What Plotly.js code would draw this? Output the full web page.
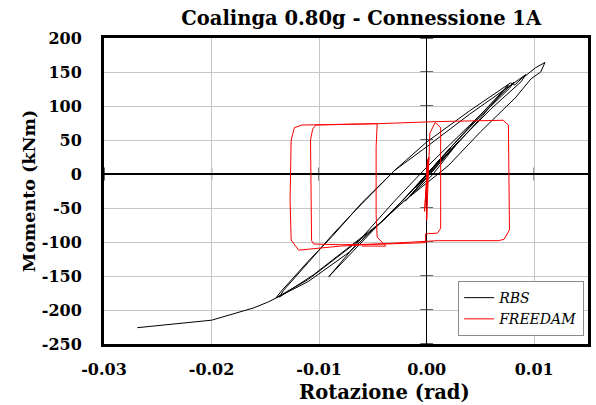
<!DOCTYPE html>
<html>
<head>
<meta charset="utf-8">
<script src="https://cdn.plot.ly/plotly-3.0.1.min.js"></script>
<style>html,body{margin:0;padding:0;background:#fff;}#chart{width:596px;height:405px;}</style>
</head>
<body>
<div id="chart"></div>
<script>
// RBS hysteresis (rotation rad, moment kNm)
var rbsX = [0, 0.0010, -0.0006, 0.0016, -0.0010, 0.0022, -0.0008, 0.0028, 0.0010, -0.0015, 0.0005, 0.0030, 0.0000, -0.0020,
  -0.0005, 0.0020, 0.0050, 0.0076,
  0.0040, 0.0010, -0.0020, -0.0050, -0.0091,
  -0.0085, -0.0060, -0.0030, 0.0000, 0.0040, 0.0081,
  0.0077, 0.0050, 0.0020, -0.0010, -0.0040, -0.0072, -0.0105, -0.0137,
  -0.0133, -0.0110, -0.0088, -0.0066, -0.0030, 0.0000, 0.0040, 0.0078, 0.0082, 0.0092, 0.0090, 0.0101, 0.0110,
  0.0106, 0.0097, 0.0083, 0.0050, 0.0020, -0.0021, -0.0050, -0.0075, -0.0110, -0.0140,
  -0.0135, -0.0110, -0.0088, -0.0060, -0.0030, 0.0000, 0.0040, 0.0092,
  0.0088, 0.0060, 0.0030, 0.0000, -0.0030, -0.0072, -0.0110, -0.0147, -0.0161, -0.0200, -0.0269];
var rbsY = [0, 18, -12, 28, -20, 38, -15, 45, 12, -32, -2, 48, -5, -40,
  -15, 30, 82, 131,
  70, 18, -35, -83, -151,
  -140, -93, -40, 10, 72, 135,
  126, 85, 35, -18, -68, -108, -148, -181,
  -171, -130, -90, -53, 5, 47, 93, 134, 131, 146, 142, 156, 164,
  150, 140, 113, 62, 12, -40, -82, -113, -155, -182,
  -172, -128, -92, -42, 5, 40, 88, 146,
  136, 96, 48, -2, -52, -115, -158, -188, -197, -215, -226];

// FREEDAM hysteresis
var fdX = [0, 0.0001, -0.0001, 0.0002, -0.0002, 0.0001, 0.0000,
  0.0003, 0.0008, 0.0013, 0.0013, 0.0010, -0.0001, -0.0001,
  -0.0040, -0.0080, -0.0105, -0.0107,
  -0.0108, -0.0106, -0.0103,
  -0.0060, -0.0045, 0.0008, 0.0071, 0.0076,
  0.0077, 0.0072, 0.0067,
  0.0011, -0.0040, -0.0080, -0.0119,
  -0.0126, -0.0127, -0.0126, -0.0123, -0.0116,
  -0.0046, -0.0047, -0.0047, -0.0046, -0.0038, -0.0060];
var fdY = [0, 22, -40, 25, -55, 18, -68,
  60, 76, 68, -80, -87, -88, -101,
  -103, -104, -103, -98,
  50, 66, 72,
  73, 74, 77, 79, 72,
  -82, -96, -98,
  -98, -103, -106, -112,
  -97, -38, 50, 68, 72,
  74, 40, -60, -93, -106, -106];

var xTicks = [-0.03, -0.02, -0.01, 0, 0.01];
var xTickText = ['-0.03', '-0.02', '-0.01', '0.00', '0.01'];
var yTicks = [-250, -200, -150, -100, -50, 0, 50, 100, 150, 200];
var yTickText = ['-250', '-200', '-150', '-100', '-50', '0', '50', '100', '150', '200'];

var shapes = [];
xTicks.forEach(function (v) {
  shapes.push({type: 'line', xref: 'x', yref: 'y', x0: v, x1: v, y0: -9.5, y1: 9.5, line: {color: '#000', width: 1.2}, layer: 'below'});
});
yTicks.forEach(function (v) {
  shapes.push({type: 'line', xref: 'x', yref: 'y', x0: -0.0006, x1: 0.0006, y0: v, y1: v, line: {color: '#000', width: 1.2}, layer: 'below'});
});

var serif = 'DejaVu Serif';
var data = [
  {x: rbsX, y: rbsY, type: 'scatter', mode: 'lines', name: 'RBS', line: {color: '#000000', width: 1}},
  {x: fdX, y: fdY, type: 'scatter', mode: 'lines', name: 'FREEDAM', line: {color: '#ff0000', width: 1}}
];

var layout = {
  width: 596, height: 405,
  margin: {l: 104, r: 8, t: 38, b: 61},
  paper_bgcolor: '#fff', plot_bgcolor: '#fff',
  showlegend: true,
  font: {family: serif, color: '#000'},
  title: {text: '<b>Coalinga 0.80g - Connessione 1A</b>', font: {family: serif, size: 19.5, color: '#000'},
    x: 0.606, xref: 'container', xanchor: 'center', y: 0.955, yref: 'container', yanchor: 'middle'},
  xaxis: {
    range: [-0.03, 0.015], tickmode: 'array', tickvals: xTicks, ticktext: xTickText,
    showgrid: true, gridcolor: '#c6c6c6', gridwidth: 1,
    zeroline: true, zerolinecolor: '#000', zerolinewidth: 1.3,
    showline: true, linecolor: '#000', linewidth: 3, mirror: true,
    ticks: '', ticklabelstandoff: 9,
    tickfont: {family: serif, size: 16, color: '#000', weight: 'bold'},
    title: {text: ''}
  },
  yaxis: {
    range: [-250, 200], tickmode: 'array', tickvals: yTicks, ticktext: yTickText,
    showgrid: true, gridcolor: '#c6c6c6', gridwidth: 1,
    zeroline: true, zerolinecolor: '#000', zerolinewidth: 1.3,
    showline: true, linecolor: '#000', linewidth: 3, mirror: true,
    ticks: '', ticklabelstandoff: 16,
    tickfont: {family: serif, size: 16, color: '#000', weight: 'bold'},
    title: {text: '<b>Momento (kNm)</b>', font: {family: serif, size: 17.5, color: '#000'}, standoff: 2}
  },
  annotations: [{
    text: '<b>Rotazione (rad)</b>', xref: 'paper', yref: 'paper', x: 0.579, y: -0.158,
    xanchor: 'center', yanchor: 'middle', showarrow: false,
    font: {family: serif, size: 19.5, color: '#000'}
  }],
  legend: {
    x: 0.992, y: 0.026, xanchor: 'right', yanchor: 'bottom',
    bgcolor: '#fff', bordercolor: '#8c8c8c', borderwidth: 1,
    font: {family: serif, size: 14, color: '#000', style: 'italic'},
    itemwidth: 30, tracegroupgap: 0
  },
  shapes: shapes
};

Plotly.newPlot('chart', data, layout, {displayModeBar: false, staticPlot: true});
</script>
</body>
</html>
